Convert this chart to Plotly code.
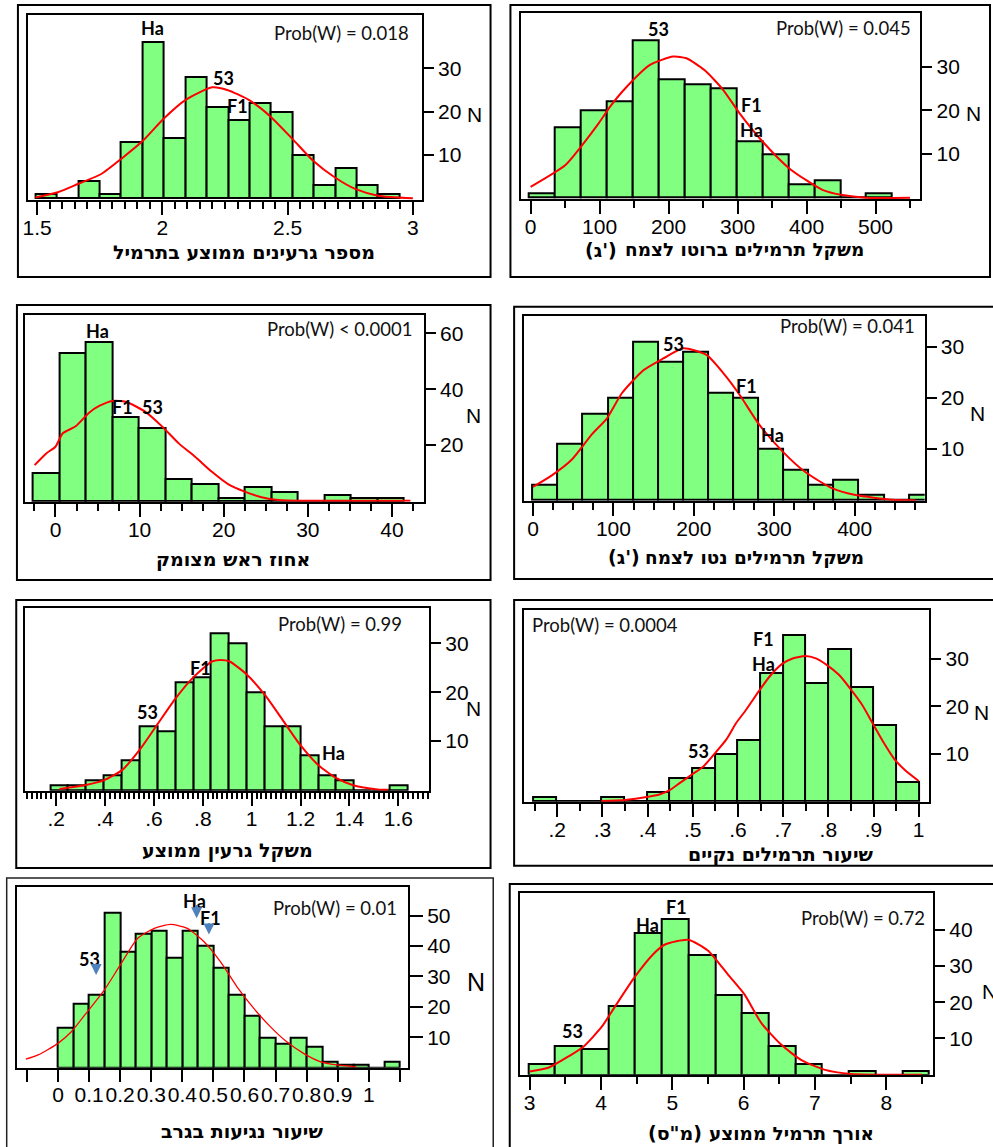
import numpy as np
import plotly.graph_objects as go

W, H = 993, 1147

# ---------------- DATA ----------------
# Panel 1: average number of seeds per pod
p1_bin_start, p1_bin_width = 1.493, 0.0855
p1_counts = [1, 0, 4, 1, 13, 36, 14, 28, 21, 18, 22, 20, 10, 3, 7, 3, 1]
p1_curve_x = [1.493, 1.583, 1.663, 1.756, 1.838, 1.921, 2.004, 2.093, 2.199, 2.259, 2.345, 2.431, 2.521, 2.603, 2.689, 2.772, 2.861, 3.0]
p1_curve_y = [0.2, 1.4, 3.3, 5.6, 9.2, 13.2, 18.3, 22.7, 25.6, 25.0, 22.7, 18.9, 13.6, 8.6, 4.8, 2.1, 0.6, 0]
p1_title = "מספר גרעינים ממוצע בתרמיל"
p1_prob = "Prob(W) = 0.018"
p1_xtick_vals = [1.5, 2, 2.5, 3]
p1_xtick_text = ["1.5", "2", "2.5", "3"]
p1_ytick_vals = [10, 20, 30]
p1_labels = [("Ha", 1.961, 39.2), ("53", 2.245, 27.7), ("F1", 2.301, 21.2)]

# Panel 2: gross pod weight per plant (g)
p2_bin_start, p2_bin_width = -2.4, 37.6
p2_counts = [1, 16, 20, 22, 36, 27, 26, 25, 13, 10, 3, 4, 0, 1]
p2_curve_x = [0, 50.5, 74.5, 98.6, 115, 137, 173, 206.7, 226, 252, 279, 303, 336.5, 375, 423, 452, 485.6, 550]
p2_curve_y = [2.5, 7.5, 12, 17, 20.8, 25, 30.4, 32.3, 31.9, 29.2, 24.7, 19.3, 12.8, 6.7, 1.8, 0.6, 0, 0]
p2_title_unit = "(ג')"
p2_title_words = "משקל תרמילים ברוטו לצמח"
p2_prob = "Prob(W) = 0.045"
p2_xtick_vals = [0, 100, 200, 300, 400, 500]
p2_xtick_text = ["0", "100", "200", "300", "400", "500"]
p2_ytick_vals = [10, 20, 30]
p2_labels = [("53", 185, 38.5), ("F1", 319.7, 21.2), ("Ha", 319.7, 15.6)]

# Panel 3: percent shrivelled heads
p3_bin_start, p3_bin_width = -2.68, 3.15
p3_counts = [10, 53, 57, 30, 26, 8, 6, 1, 5, 3, 0, 2, 1, 1]
p3_curve_x = [-2.48, -1.1, 0, 0.87, 2.44, 4.0, 5.2, 6.78, 8.35, 10.7, 12.7, 14.66, 16.6, 18.6, 20.57, 22.5, 24.5, 26.5, 30.4, 42.2]
p3_curve_y = [12.8, 17, 19.4, 24.2, 26.8, 31.6, 34, 35.8, 35.5, 31.9, 26.6, 20.6, 15.8, 10.4, 5.9, 3.3, 1.3, 0.3, 0, 0]
p3_title = "אחוז ראש מצומק"
p3_prob = "Prob(W) &lt; 0.0001"
p3_xtick_vals = [0, 10, 20, 30, 40]
p3_xtick_text = ["0", "10", "20", "30", "40"]
p3_ytick_vals = [20, 40, 60]
p3_labels = [("Ha", 5.0, 61), ("F1", 7.96, 33.7), ("53", 11.5, 33.7)]

# Panel 4: net pod weight per plant (g)
p4_bin_start, p4_bin_width = -0.8, 31.2
p4_counts = [3, 11, 17, 20, 31, 27, 29, 21, 20, 10, 6, 3, 4, 1, 0, 1]
p4_curve_x = [0, 23.9, 48.7, 73.4, 92, 110.5, 137.3, 162, 186.8, 215.7, 238.4, 256.9, 281.6, 310.5, 339.4, 372.4, 401.2, 446.6, 475.5]
p4_curve_y = [2.6, 4.9, 8.0, 12.9, 16, 20.9, 25.4, 27.7, 29.7, 28.4, 24.5, 20.6, 14.7, 9.5, 5.4, 2.3, 1.0, 0.1, 0]
p4_title_unit = "(ג')"
p4_title_words = "משקל תרמילים נטו לצמח"
p4_prob = "Prob(W) = 0.041"
p4_xtick_vals = [0, 100, 200, 300, 400]
p4_xtick_text = ["0", "100", "200", "300", "400"]
p4_ytick_vals = [10, 20, 30]
p4_labels = [("53", 174.4, 30.5), ("F1", 266, 22.4), ("Ha", 298, 12.7)]

# Panel 5: average seed weight
p5_bin_start, p5_bin_width = 0.1756, 0.0731
p5_counts = [1, 1, 2, 3, 6, 13, 12, 22, 23, 32, 30, 20, 13, 13, 7, 3, 2, 0, 0, 1]
p5_curve_x = [0.2136, 0.322, 0.397, 0.471, 0.546, 0.6166, 0.688, 0.760, 0.8377, 0.874, 0.91, 0.983, 1.0548, 1.127, 1.1986, 1.272, 1.3465, 1.418, 1.516, 1.557]
p5_curve_y = [0.2, 1, 2, 4.1, 8.5, 13.6, 18.7, 23, 26.3, 26.6, 26.3, 23.5, 19.4, 14.3, 9.2, 5.1, 2.4, 0.9, 0.1, 0]
p5_title = "משקל גרעין ממוצע"
p5_prob = "Prob(W) = 0.99"
p5_xtick_vals = [0.2, 0.4, 0.6, 0.8, 1.0, 1.2, 1.4, 1.6]
p5_xtick_text = [".2", ".4", ".6", ".8", "1", "1.2", "1.4", "1.6"]
p5_ytick_vals = [10, 20, 30]
p5_labels = [("53", 0.573, 16), ("F1", 0.79, 24.9), ("Ha", 1.333, 7.5)]

# Panel 6: rate of clean pods
p6_bin_start, p6_bin_width = 0.1475, 0.05015
p6_counts = [1, 0, 0, 1, 0, 2, 5, 7, 10, 13, 27, 35, 25, 32, 24, 16, 4]
p6_curve_x = [0.2976, 0.35, 0.398, 0.4275, 0.448, 0.4716, 0.4987, 0.5229, 0.547, 0.574, 0.596, 0.618, 0.6455, 0.67, 0.697, 0.721, 0.749, 0.7725, 0.797, 0.824, 0.848, 0.875, 0.8995, 0.923, 0.947, 0.9706, 1.0]
p6_curve_y = [0.1, 0.3, 0.9, 1.5, 2.3, 3.9, 5.7, 7.3, 9.9, 13, 16.5, 19.3, 23.1, 26.3, 28.9, 30.1, 30.6, 30.1, 28.7, 26.6, 23.8, 20.3, 16.2, 12.3, 8.8, 6.5, 4.3]
p6_title = "שיעור תרמילים נקיים"
p6_prob = "Prob(W) = 0.0004"
p6_xtick_vals = [0.2, 0.3, 0.4, 0.5, 0.6, 0.7, 0.8, 0.9, 1.0]
p6_xtick_text = [".2", ".3", ".4", ".5", ".6", ".7", ".8", ".9", "1"]
p6_ytick_vals = [10, 20, 30]
p6_labels = [("F1", 0.6565, 34.2), ("Ha", 0.6565, 29), ("53", 0.5134, 10.7)]

# Panel 7: rate of pod infestation
p7_bin_start, p7_bin_width = 0.0, 0.05
p7_counts = [13, 21, 24, 51, 38, 44, 45, 36, 45, 40, 33, 24, 17, 10, 8, 10, 7, 2, 1, 1, 0, 2]
p7_curve_x = [-0.1035, -0.064, 0, 0.043, 0.096, 0.149, 0.197, 0.256, 0.31, 0.363, 0.416, 0.47, 0.523, 0.576, 0.63, 0.683, 0.736, 0.79, 0.843, 0.896, 0.96]
p7_curve_y = [2.8, 4.2, 8, 11.8, 18.6, 25.5, 33.2, 42.5, 45.8, 47.1, 45.8, 41.4, 34.8, 26.6, 19.5, 13.5, 8.5, 4.7, 2, 0.9, 0.3]
p7_title = "שיעור נגיעות בגרב"
p7_prob = "Prob(W) = 0.01"
p7_xtick_vals = [-0.1, 0, 0.1, 0.2, 0.3, 0.4, 0.5, 0.6, 0.7, 0.8, 0.9, 1.0, 1.1]
p7_xtick_text = ["", "0", "0.1", "0.2", "0.3", "0.4", "0.5", "0.6", "0.7", "0.8", "0.9", "1", ""]
p7_ytick_vals = [10, 20, 30, 40, 50]
# (text, text x, text y, arrow x, arrow tail y, arrow tip y)
p7_arrow_labels = [("Ha", 0.44, 54.8, 0.446, 54.0, 49.1), ("F1", 0.491, 49.1, 0.4856, 48.0, 43.8), ("53", 0.101, 35.7, 0.1227, 34.6, 30.5)]

# Panel 8: average pod length (cm)
p8_bin_start, p8_bin_width = 2.981, 0.3745
p8_counts = [3, 8, 7, 19, 39, 43, 33, 22, 17, 8, 3, 0, 1, 0, 1]
p8_curve_x = [3.0, 3.27, 3.549, 3.758, 4.014, 4.2, 4.479, 4.735, 4.898, 5.223, 5.502, 5.781, 6.014, 6.247, 6.526, 6.805, 7.13, 7.502, 8.5]
p8_curve_y = [0.9, 2.0, 5.1, 7.8, 13.3, 18.9, 27.1, 33.3, 35.9, 37.2, 34.2, 27.6, 22.1, 14.3, 8.3, 4.1, 1.4, 0.2, 0]
p8_title_unit = '(ס"מ)'
p8_title_words = "אורך תרמיל ממוצע"
p8_prob = "Prob(W) = 0.72"
p8_xtick_vals = [3, 4, 5, 6, 7, 8]
p8_xtick_text = ["3", "4", "5", "6", "7", "8"]
p8_ytick_vals = [10, 20, 30, 40]
p8_labels = [("F1", 5.06, 46.2), ("Ha", 4.65, 41.4), ("53", 3.595, 12.1)]

LRM = "\u200e"


def visual_ltr(s):
    """Keep the glyphs of s in left-to-right order, as the source figure shows them."""
    return LRM + LRM.join(s) + LRM


# ---------------- LAYOUT (pixel geometry) ----------------
def PX(x):
    return x / W


def PY(y):
    return 1 - y / H


panels = [
    dict(start=p1_bin_start, width=p1_bin_width, counts=p1_counts, cx=p1_curve_x, cy=p1_curve_y,
         title=p1_title, prob=p1_prob, xv=p1_xtick_vals, xt=p1_xtick_text, yv=p1_ytick_vals, labels=p1_labels,
         frame=(22.7, 15, 419, 200), xr=[1.462, 3.036], yr=[-0.4, 42.3], minor=(1.5, 0.05),
         outer=(13, 5, 488, 277), title_xy=(240, 252), N_xy=(472, 115), prob_xy=(408, 33, "right")),
    dict(start=p2_bin_start, width=p2_bin_width, counts=p2_counts, cx=p2_curve_x, cy=p2_curve_y,
         title=None, unit=p2_title_unit, words=p2_title_words, unit_left=581, words_right=865, title_y=250,
         prob=p2_prob, xv=p2_xtick_vals, xt=p2_xtick_text, yv=p2_ytick_vals, labels=p2_labels,
         frame=(518.3, 13.3, 920, 199), xr=[-14.4, 565], yr=[-0.3, 42.2], minor=(0, 50),
         outer=(508, 5, 990, 277), N_xy=(973, 113), prob_xy=(913, 28, "right")),
    dict(start=p3_bin_start, width=p3_bin_width, counts=p3_counts, cx=p3_curve_x, cy=p3_curve_y,
         title=p3_title, prob=p3_prob, xv=p3_xtick_vals, xt=p3_xtick_text, yv=p3_ytick_vals, labels=p3_labels,
         frame=(19.7, 315, 421, 501.7), xr=[-3.67, 43.8], yr=[-0.3, 66.6], minor=(0, 2.5),
         outer=(12, 305, 488, 580), title_xy=(229, 559), N_xy=(471, 415), prob_xy=(411, 329, "right")),
    dict(start=p4_bin_start, width=p4_bin_width, counts=p4_counts, cx=p4_curve_x, cy=p4_curve_y,
         title=None, unit=p4_title_unit, words=p4_title_words, unit_left=604, words_right=865, title_y=557,
         prob=p4_prob, xv=p4_xtick_vals, xt=p4_xtick_text, yv=p4_ytick_vals, labels=p4_labels,
         frame=(521.7, 315.7, 924.3, 500.7), xr=[-11.1, 487], yr=[-0.1, 36.06], minor=(0, 25),
         outer=(511.7, 306.7, 1005, 579), N_xy=(977, 414), prob_xy=(917, 326, "right")),
    dict(start=p5_bin_start, width=p5_bin_width, counts=p5_counts, cx=p5_curve_x, cy=p5_curve_y,
         title=p5_title, prob=p5_prob, xv=p5_xtick_vals, xt=p5_xtick_text, yv=p5_ytick_vals, labels=p5_labels,
         frame=(19.7, 608.3, 426.3, 790.7), xr=[0.071, 1.726], yr=[-0.17, 37.2], minor=(0, 0.02),
         outer=(11.3, 600, 488, 868), title_xy=(224, 850), N_xy=(471, 708), prob_xy=(401, 624, "right")),
    dict(start=p6_bin_start, width=p6_bin_width, counts=p6_counts, cx=p6_curve_x, cy=p6_curve_y,
         title=p6_title, prob=p6_prob, xv=p6_xtick_vals, xt=p6_xtick_text, yv=p6_ytick_vals, labels=p6_labels,
         frame=(521.7, 610, 929, 801.7), xr=[0.1266, 1.0235], yr=[-0.07, 40.3], minor=(0.15, 0.05),
         outer=(511.7, 600, 1005, 865.7), title_xy=(780, 854), N_xy=(981, 712), prob_xy=(527.7, 625, "left")),
    dict(start=p7_bin_start, width=p7_bin_width, counts=p7_counts, cx=p7_curve_x, cy=p7_curve_y,
         title=p7_title, prob=p7_prob, xv=p7_xtick_vals, xt=p7_xtick_text, yv=p7_ytick_vals, labels=[],
         frame=(11.7, 886.7, 405, 1067.7), xr=[-0.133, 1.126], yr=[0, 59.5], minor=None,
         outer=(1.7, 878, 490.7, 1160), title_xy=(238, 1131), N_xy=(473, 982), prob_xy=(396, 908, "right")),
    dict(start=p8_bin_start, width=p8_bin_width, counts=p8_counts, cx=p8_curve_x, cy=p8_curve_y,
         title=None, unit=p8_title_unit, words=p8_title_words, unit_left=644, words_right=875, title_y=1133,
         prob=p8_prob, xv=p8_xtick_vals, xt=p8_xtick_text, yv=p8_ytick_vals, labels=p8_labels,
         frame=(517.3, 893, 932.7, 1074.7), xr=[2.86, 8.656], yr=[0, 50.1], minor=(3, 0.5),
         outer=(507.3, 884, 1005, 1160), N_xy=(989, 991), prob_xy=(926.7, 918, "right")),
]

GREEN = "#80FF80"
TICK_FONT = dict(family="Liberation Sans, Arial, sans-serif", size=21, color="black")
LABEL_FONT = dict(family="Lato, Open Sans, sans-serif", size=18, color="black", weight="bold")
PROB_FONT = dict(family="Lato, Open Sans, sans-serif", size=18.5, color="#111111")
HEB_FONT = dict(family="DejaVu Sans, sans-serif", size=19, color="black", weight="bold")
HEB_FONT_WORDS = dict(HEB_FONT, size=18.4)

fig = go.Figure()
annotations = []
shapes = []
layout_axes = {}

for i, p in enumerate(panels, start=1):
    xa = "x" if i == 1 else f"x{i}"
    ya = "y" if i == 1 else f"y{i}"
    xkey = "xaxis" if i == 1 else f"xaxis{i}"
    ykey = "yaxis" if i == 1 else f"yaxis{i}"

    n = len(p["counts"])
    left_edges = p["start"] + p["width"] * np.arange(n)
    fig.add_trace(go.Bar(
        x=left_edges, y=p["counts"], width=p["width"], offset=0,
        marker=dict(color=GREEN, line=dict(color="black", width=2)),
        xaxis=xa, yaxis=ya, hoverinfo="skip", showlegend=False,
    ))
    fig.add_trace(go.Scatter(
        x=p["cx"], y=p["cy"], mode="lines",
        line=dict(color="#FF0000", width=1.3 if i == 7 else 2, shape="spline", smoothing=0.6),
        xaxis=xa, yaxis=ya, hoverinfo="skip", showlegend=False, cliponaxis=True,
    ))

    L, T, R, B = p["frame"]
    xaxis = dict(
        domain=[PX(L), PX(R)], range=p["xr"], anchor=ya,
        showline=True, linecolor="black", linewidth=2, mirror=True,
        showgrid=False, zeroline=False,
        tickmode="array", tickvals=p["xv"], ticktext=p["xt"], tickangle=0,
        ticks="outside", ticklen=12 if i == 7 else 13, tickwidth=1.5 if i == 7 else 2, tickcolor="black",
        tickfont=TICK_FONT, fixedrange=True, ticklabelstandoff=-5,
    )
    if p["minor"] is not None:
        xaxis["minor"] = dict(tickmode="linear", tick0=p["minor"][0], dtick=p["minor"][1],
                              ticks="outside", ticklen=7 if i != 5 else 6, tickwidth=2, tickcolor="black",
                              showgrid=False)
    yaxis = dict(
        domain=[PY(B), PY(T)], range=p["yr"], anchor=xa, side="right",
        showline=True, linecolor="black", linewidth=2, mirror=True,
        showgrid=False, zeroline=False,
        tickmode="array", tickvals=p["yv"],
        ticks="outside", ticklen=13 if i == 7 else 10, tickwidth=1.5 if i == 7 else 2, tickcolor="black",
        tickfont=TICK_FONT, fixedrange=True,
    )
    layout_axes[xkey] = xaxis
    layout_axes[ykey] = yaxis

    # outer frame
    oL, oT, oR, oB = p["outer"]
    shapes.append(dict(type="rect", xref="paper", yref="paper",
                       x0=PX(oL), x1=PX(oR), y0=PY(oB), y1=PY(oT),
                       line=dict(color="#222222" if i == 7 else "black", width=1.5 if i == 7 else 2),
                       fillcolor="rgba(0,0,0,0)", layer="below"))

    # hebrew axis title
    if p["title"] is not None:
        tx, ty = p["title_xy"]
        annotations.append(dict(xref="paper", yref="paper", x=PX(tx), y=PY(ty), text=p["title"],
                                showarrow=False, font=HEB_FONT, xanchor="center", yanchor="middle"))
    else:
        annotations.append(dict(xref="paper", yref="paper", x=PX(p["words_right"]), y=PY(p["title_y"]),
                                text=p["words"], showarrow=False, font=HEB_FONT_WORDS,
                                xanchor="right", yanchor="middle"))
        annotations.append(dict(xref="paper", yref="paper", x=PX(p["unit_left"]), y=PY(p["title_y"]),
                                text=visual_ltr(p["unit"]), showarrow=False, font=HEB_FONT,
                                xanchor="left", yanchor="middle"))
    # N
    nx, ny = p["N_xy"]
    annotations.append(dict(xref="paper", yref="paper", x=PX(nx), y=PY(ny), text="N",
                            showarrow=False, font=dict(TICK_FONT, size=25 if i == 7 else 21),
                            xanchor="center", yanchor="middle"))
    # Prob(W)
    px_, py_, anc = p["prob_xy"]
    annotations.append(dict(xref="paper", yref="paper", x=PX(px_), y=PY(py_), text=p["prob"],
                            showarrow=False, font=PROB_FONT, xanchor=anc, yanchor="middle"))
    # genotype labels
    for txt, lx, ly in p["labels"]:
        annotations.append(dict(xref=xa, yref=ya, x=lx, y=ly, text=txt, showarrow=False,
                                font=LABEL_FONT, xanchor="center", yanchor="middle"))

# panel 7 labels with blue arrows
for txt, lx, ly, axx, tail_y, tip_y in p7_arrow_labels:
    annotations.append(dict(xref="x7", yref="y7", x=lx, y=ly, text=txt, showarrow=False,
                            font=LABEL_FONT, xanchor="center", yanchor="middle"))
    annotations.append(dict(xref="x7", yref="y7", x=axx, y=tip_y, ax=axx, ay=tail_y,
                            axref="x7", ayref="y7", text="", showarrow=True,
                            arrowhead=2, arrowsize=1, arrowwidth=2.2, arrowcolor="#4F81BD"))

fig.update_layout(
    width=W, height=H, margin=dict(l=0, r=0, t=0, b=0),
    paper_bgcolor="white", plot_bgcolor="white",
    showlegend=False, bargap=0,
    annotations=annotations, shapes=shapes,
    **layout_axes,
)

fig.write_html("out.html", config={"displayModeBar": False},
               post_script=["document.body.style.margin='0px';"])
